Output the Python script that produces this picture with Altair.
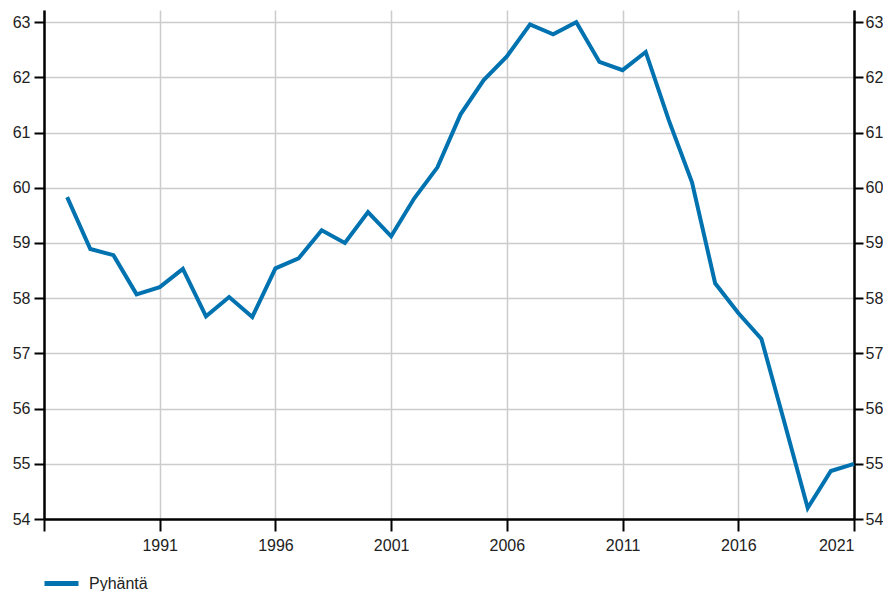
import altair as alt
import pandas as pd

years = list(range(1987, 2022))
values = [59.83, 58.89, 58.78, 58.07, 58.20, 58.53, 57.67, 58.02, 57.66, 58.54,
          58.72, 59.23, 59.00, 59.56, 59.12, 59.81, 60.37, 61.33, 61.95, 62.38,
          62.96, 62.78, 63.00, 62.28, 62.13, 62.46, 61.22, 60.10, 58.27, 57.73,
          57.26, 55.74, 54.20, 54.87, 55.00]
series = ["Pyhäntä"] * len(years)

df = pd.DataFrame({"year": years, "value": values, "series": series})

FONT = "Liberation Sans"
x_ticks = [1986, 1991, 1996, 2001, 2006, 2011, 2016, 2021]
y_ticks = [54, 55, 56, 57, 58, 59, 60, 61, 62, 63]

x = alt.X("year:Q",
          scale=alt.Scale(domain=[1986, 2021], nice=False, zero=False),
          axis=alt.Axis(values=x_ticks, title=None, format="d",
                        labelExpr="datum.value == 1986 ? '' : datum.label",
                        domainColor="#000", domainWidth=2.5,
                        tickColor="#000", tickWidth=2, tickSize=12,
                        labelFont=FONT, labelFontSize=16, labelColor="#222",
                        labelPadding=6, gridColor="#cccccc", gridWidth=1.5))

ydom = alt.Scale(domain=[54, 63.22], nice=False, zero=False)

line = alt.Chart(df).mark_line(strokeWidth=4, color="#0072b0").encode(
    x=x,
    y=alt.Y("value:Q", scale=ydom,
            axis=alt.Axis(values=y_ticks, title=None, orient="left",
                          domainColor="#000", domainWidth=2.5,
                          tickColor="#000", tickWidth=2, tickSize=10,
                          labelFont=FONT, labelFontSize=16, labelColor="#222",
                          labelPadding=4, gridColor="#cccccc", gridWidth=1.5)),
    color=alt.Color("series:N",
                    scale=alt.Scale(range=["#0072b0"]),
                    legend=alt.Legend(title=None, orient="none",
                                      legendX=-2, legendY=554,
                                      symbolType="stroke", symbolSize=1156,
                                      symbolStrokeWidth=5, symbolOpacity=1,
                                      labelFont=FONT, labelFontSize=16,
                                      labelColor="#222", labelOffset=8)),
)

right = alt.Chart(df).mark_line(strokeOpacity=0).encode(
    x=x,
    y=alt.Y("value:Q", scale=ydom,
            axis=alt.Axis(values=y_ticks, title=None, orient="right", grid=False,
                          domainColor="#000", domainWidth=2.5,
                          tickColor="#000", tickWidth=2, tickSize=9,
                          labelFont=FONT, labelFontSize=16, labelColor="#222",
                          labelPadding=2)),
)

chart = alt.layer(line, right).resolve_scale(y="independent").properties(
    width=810, height=509,
    autosize=alt.AutoSizeParams(type="none"),
    padding={"left": 36, "top": 2, "right": 29, "bottom": 72},
).configure_view(stroke=None)

chart.save("out.html", embed_options={"renderer": "svg", "actions": False})
